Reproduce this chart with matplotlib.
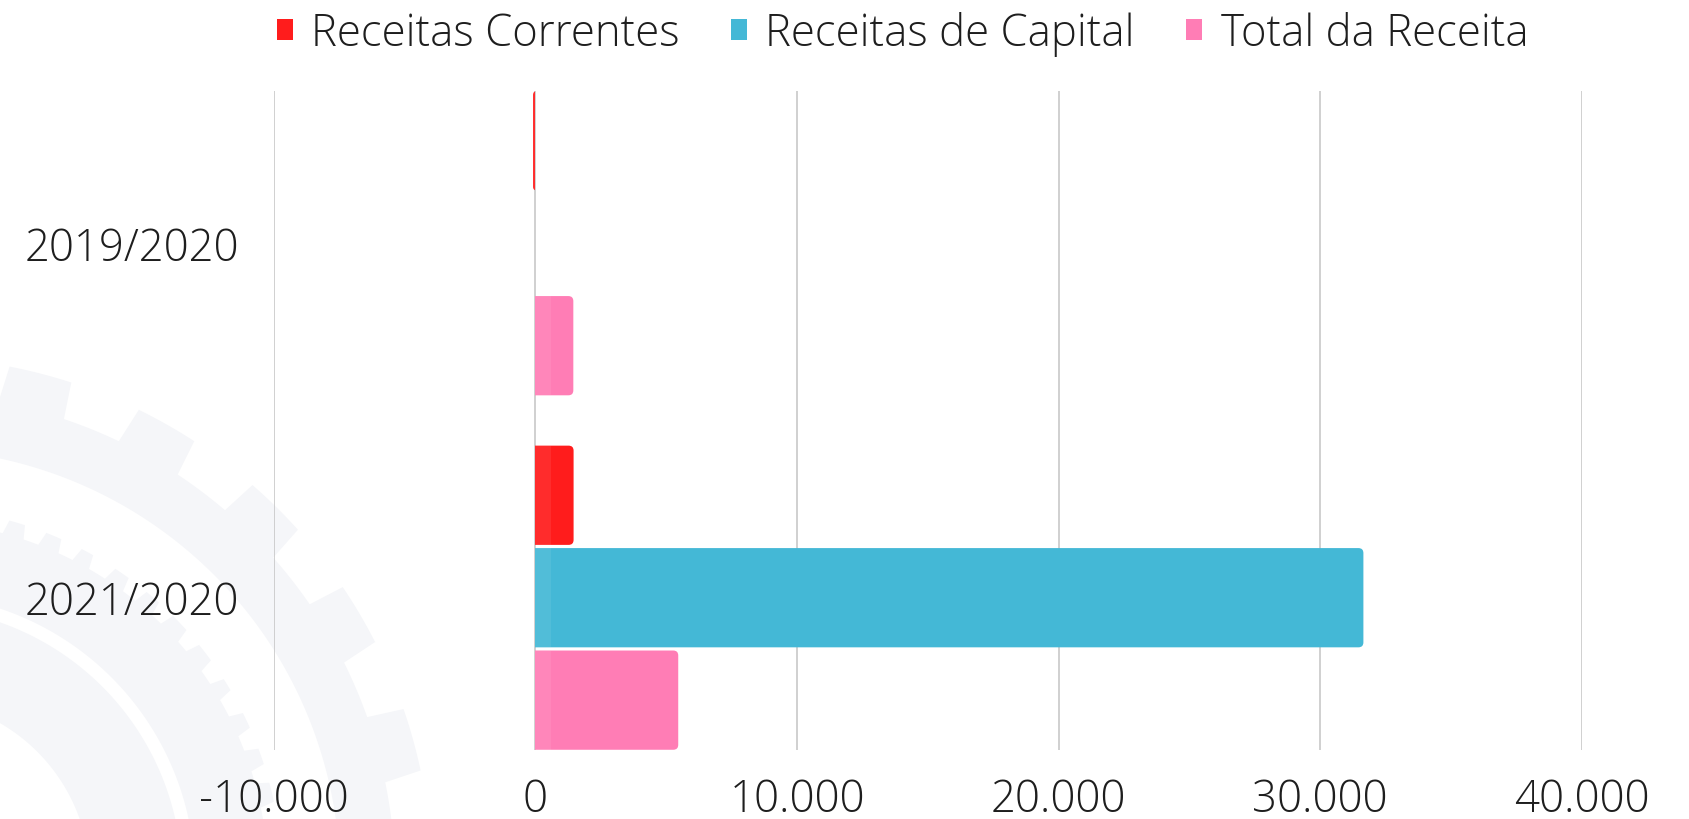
import matplotlib
matplotlib.use("Agg")
import matplotlib.pyplot as plt
from matplotlib.patches import FancyBboxPatch, Polygon, Rectangle
from matplotlib.ticker import FuncFormatter
import numpy as np

categories = ["2019/2020", "2021/2020"]
series = ["Receitas Correntes", "Receitas de Capital", "Total da Receita"]
receitas_correntes = [-90, 1460]
receitas_capital = [0, 31650]
total_receita = [1450, 5460]
colors = ["#ff1c1c", "#44b8d6", "#ff7db5"]

plt.rcParams["font.family"] = ["Open Sans", "DejaVu Sans"]
plt.rcParams["font.weight"] = 300

W, H = 1690, 820
fig = plt.figure(figsize=(W / 100, H / 100), dpi=100)

# faint gear watermark in the lower left (figure pixels)
def ring(cx, cy, r_in, r_out, teeth=0, r_tip=0, phase=0.0, n=720):
    t = np.linspace(0, 2 * np.pi, n, endpoint=False)
    r = np.full(n, r_out)
    if teeth:
        on = ((t * teeth / (2 * np.pi) + phase) % 1.0) < 0.5
        r = np.where(on, r_tip, r_out)
    outer = np.c_[cx + r * np.cos(t), cy + r * np.sin(t)]
    inner = np.c_[cx + r_in * np.cos(t[::-1]), cy + r_in * np.sin(t[::-1])]
    return np.vstack([outer, outer[:1], inner, inner[:1]])

gear_color = "#f5f6f9"
cx, cy = -90, H - 880
for verts in [ring(cx, cy, 430, 485, teeth=24, r_tip=522, phase=0.2),
              ring(cx, cy, 285, 358, teeth=60, r_tip=372),
              ring(cx, cy, 180, 272)]:
    fig.patches.append(Polygon(verts / [W, H], closed=True, transform=fig.transFigure,
                               facecolor=gear_color, edgecolor="none", zorder=-5))

ax = fig.add_axes([0.162, 0.084, 0.774, 0.804])
ax.set_facecolor("none")

y = np.arange(len(categories))
step = 0.289
height = 0.28
ax.set_xlim(-10000, 40000)
ax.set_ylim(1.43, -0.43)

# rounding of the bar ends, ~5 px
px_x = 50000 / (0.774 * W)
px_y = 1.86 / (0.804 * H)
rad = 5 * px_x
aspect = px_y / px_x

values = [receitas_correntes, receitas_capital, total_receita]
for i, (name, vals, c) in enumerate(zip(series, values, colors)):
    pos = y + (i - 1) * step
    # invisible bars carry the legend entry
    ax.barh(pos, vals, height=height, color=c, label=name, alpha=0)
    for p, v in zip(pos, vals):
        if v == 0:
            continue
        w = abs(v) + rad
        x0 = -rad if v > 0 else v
        box = FancyBboxPatch((x0, p - height / 2), w, height,
                             boxstyle=f"round,pad=0,rounding_size={min(rad, w / 2)}",
                             mutation_aspect=aspect, facecolor=c, edgecolor="none", zorder=3)
        ax.add_patch(box)
        clip = Rectangle((0, -5) if v > 0 else (-1e6, -5), 1e6, 10, transform=ax.transData)
        box.set_clip_path(clip)
    # light sheen next to the zero line
    ax.barh(pos, [np.sign(v) * min(abs(v), 580) for v in vals], height=height,
            color="white", alpha=0.07, zorder=4)

ax.set_xticks(np.arange(-10000, 40001, 10000))
ax.xaxis.set_major_formatter(FuncFormatter(lambda v, p: f"{int(v):,}".replace(",", ".")))
ax.set_yticks(y)
ax.set_yticklabels(categories)
ax.grid(axis="x", color="#c8c8c8", linewidth=1.2, zorder=0)
ax.tick_params(axis="both", length=0, labelsize=31.5, colors="#1e1e1e")
ax.tick_params(axis="x", pad=20)
ax.tick_params(axis="y", pad=25)
for s in ax.spines.values():
    s.set_visible(False)

leg = fig.legend(loc="center", bbox_to_anchor=(0.534, 0.958), ncol=3, frameon=False,
                 handlelength=0.37, handleheight=0.37, handletextpad=0.42,
                 columnspacing=1.17, prop={"weight": 300, "size": 31.5})
for t, h in zip(leg.get_texts(), leg.legend_handles):
    t.set_color("#1e1e1e")
    h.set_alpha(1)

fig.savefig("out.png", dpi=100, facecolor="white")
